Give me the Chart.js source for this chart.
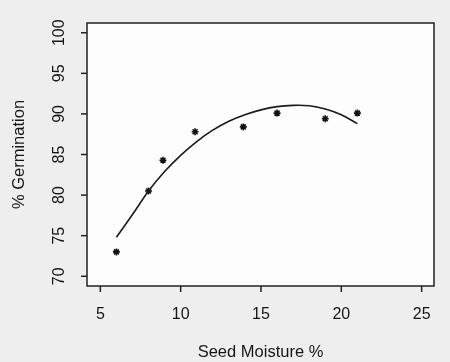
<!DOCTYPE html>
<html>
<head>
<meta charset="utf-8">
<script src="https://cdn.jsdelivr.net/npm/chart.js@4/dist/chart.umd.min.js"></script>
<style>
  html, body { margin: 0; padding: 0; background: #ececec; }
  #wrap { width: 450px; height: 362px; position: relative; }
</style>
</head>
<body>
<div id="wrap"><canvas id="c" width="450" height="362"></canvas></div>
<script>
// Observed points (seed moisture %, % germination)
const pointX = [6, 8, 8.9, 10.9, 13.9, 16, 19, 21];
const pointY = [73.0, 80.5, 84.3, 87.8, 88.4, 90.1, 89.4, 90.1];

// Fitted curve
const curveX = [6, 7, 8, 9, 10, 11, 12, 13, 14, 15, 16, 17, 18, 19, 20, 21];
const curveY = [74.8, 77.6, 80.5, 82.9, 84.9, 86.6, 88.0, 89.1, 89.9, 90.5, 90.9, 91.05, 91.0, 90.6, 89.9, 88.8];

// Axis ticks
const xTicks = [5, 10, 15, 20, 25];
const yTicks = [70, 75, 80, 85, 90, 95, 100];

const xTitle = 'Seed Moisture %';
const yTitle = '% Germination';

const FONT = '"Liberation Sans", Arial, sans-serif';
const INK = '#161616';

const frame = {
  id: 'rframe',
  beforeDraw(chart) {
    const ctx = chart.ctx, a = chart.chartArea;
    ctx.save();
    ctx.fillStyle = '#eeeeee';
    ctx.fillRect(0, 0, chart.width, chart.height);
    ctx.fillStyle = '#fdfdfd';
    ctx.fillRect(a.left, a.top, a.right - a.left, a.bottom - a.top);
    ctx.restore();
  },
  afterDraw(chart) {
    const ctx = chart.ctx, a = chart.chartArea;
    const xs = chart.scales.x, ys = chart.scales.y;
    ctx.save();
    ctx.strokeStyle = '#222';
    ctx.lineWidth = 1.5;
    ctx.strokeRect(a.left, a.top, a.right - a.left, a.bottom - a.top);
    ctx.fillStyle = INK;
    ctx.font = '16px ' + FONT;
    // x ticks
    ctx.textAlign = 'center';
    ctx.textBaseline = 'middle';
    xTicks.forEach(v => {
      const px = xs.getPixelForValue(v);
      ctx.beginPath();
      ctx.moveTo(px, a.bottom);
      ctx.lineTo(px, a.bottom + 6);
      ctx.stroke();
      ctx.fillText(String(v), px, 315);
    });
    // y ticks
    yTicks.forEach(v => {
      const py = ys.getPixelForValue(v);
      ctx.beginPath();
      ctx.moveTo(a.left, py);
      ctx.lineTo(a.left - 6, py);
      ctx.stroke();
      ctx.save();
      ctx.translate(60, py);
      ctx.rotate(-Math.PI / 2);
      ctx.fillText(String(v), 0, 0);
      ctx.restore();
    });
    // titles
    ctx.font = '16.5px ' + FONT;
    ctx.fillText(xTitle, (a.left + a.right) / 2, 352);
    ctx.save();
    ctx.translate(19, (a.top + a.bottom) / 2);
    ctx.rotate(-Math.PI / 2);
    ctx.fillText(yTitle, 0, 0);
    ctx.restore();
    ctx.restore();
  }
};

new Chart(document.getElementById('c'), {
  type: 'scatter',
  data: {
    datasets: [
      {
        data: curveX.map((x, i) => ({ x, y: curveY[i] })),
        showLine: true,
        tension: 0.3,
        borderColor: '#1a1a1a',
        borderWidth: 1.6,
        pointRadius: 0,
        fill: false
      },
      {
        data: pointX.map((x, i) => ({ x, y: pointY[i] })),
        showLine: false,
        pointStyle: 'star',
        pointRadius: 3.5,
        borderColor: '#111',
        backgroundColor: '#111',
        borderWidth: 1.6
      }
    ]
  },
  options: {
    responsive: false,
    animation: false,
    devicePixelRatio: 1,
    layout: { padding: { left: 87, right: 16, top: 23, bottom: 76 } },
    plugins: { legend: { display: false }, tooltip: { enabled: false } },
    scales: {
      x: { type: 'linear', min: 4.17, max: 25.77, display: false },
      y: { type: 'linear', min: 68.8, max: 101.2, display: false }
    }
  },
  plugins: [frame]
});
</script>
</body>
</html>
